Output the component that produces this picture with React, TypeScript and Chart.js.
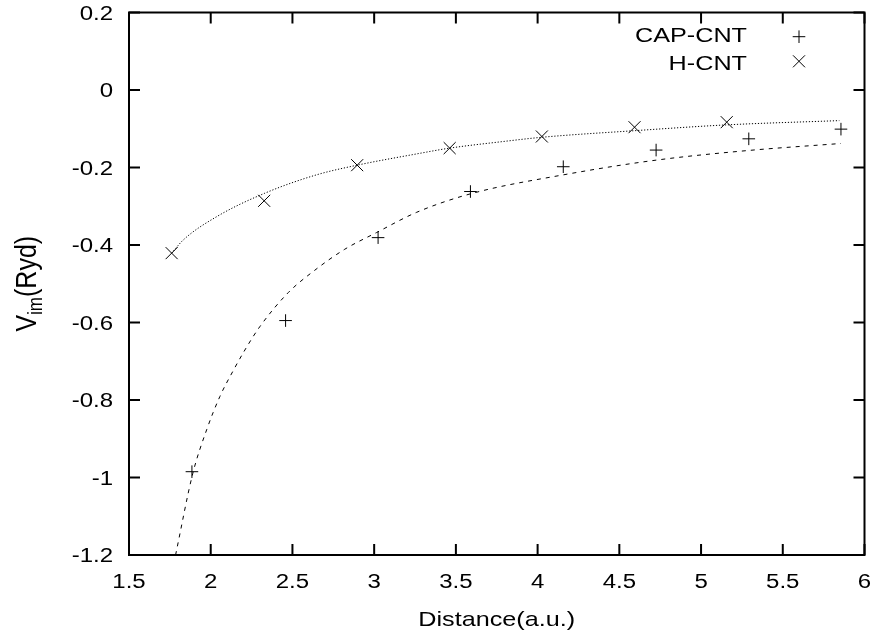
import React, { useEffect, useRef } from 'react';
import { Chart, registerables } from 'chart.js';

Chart.register(...registerables);

// ---- data ----
const capDistance = [1.885, 2.458, 3.024, 3.589, 4.157, 4.725, 5.292, 5.856];
const capVim = [-0.985, -0.595, -0.381, -0.262, -0.198, -0.155, -0.126, -0.101];

const hDistance = [1.761, 2.327, 2.896, 3.462, 4.026, 4.593, 5.157];
const hVim = [-0.421, -0.286, -0.194, -0.15, -0.12, -0.096, -0.083];

const capFitX = [1.785, 1.89, 1.975, 2.056, 2.138, 2.209, 2.3, 2.474, 2.637, 2.82, 3.014, 3.258, 3.589, 4.157, 4.725, 5.292, 5.856];
const capFitY = [-1.2, -0.99, -0.877, -0.791, -0.724, -0.671, -0.611, -0.523, -0.465, -0.411, -0.368, -0.316, -0.268, -0.219, -0.181, -0.156, -0.138];

const hFitX = [1.761, 1.832, 2.036, 2.327, 2.647, 2.896, 3.259, 3.462, 3.768, 4.026, 4.593, 5.157, 5.846];
const hFitY = [-0.421, -0.387, -0.327, -0.267, -0.219, -0.194, -0.165, -0.15, -0.134, -0.122, -0.105, -0.09, -0.079];

const xRange = [1.5, 6];
const xStep = 0.5;
const yRange = [-1.2, 0.2];
const yStep = 0.2;

const legendLabels = ['CAP-CNT', 'H-CNT'];
const xTitle = 'Distance(a.u.)';
const yTitleMain = 'V';
const yTitleSub = 'im';
const yTitleRest = '(Ryd)';

const FONT = '"Liberation Sans", Arial, Helvetica, sans-serif';
const SX = 1.2; // horizontal stretch of the reference's text

const pts = (xs: number[], ys: number[]) => xs.map((x, i) => ({ x, y: ys[i] }));

function fmt(v: number): string {
  const r = Math.round(v * 10) / 10;
  return (r === 0 ? 0 : r).toString();
}

function stretchedText(ctx: CanvasRenderingContext2D, text: string, x: number, y: number, size: number, align: CanvasTextAlign) {
  ctx.save();
  ctx.translate(x, y);
  ctx.scale(SX, 1);
  ctx.font = `${size}px ${FONT}`;
  ctx.textAlign = align;
  ctx.textBaseline = 'alphabetic';
  ctx.fillText(text, 0, 0);
  ctx.restore();
}

const gnuplotFrame = {
  id: 'gnuplotFrame',
  afterDraw(chart: any) {
    const { ctx, chartArea: a, scales } = chart;
    const xs = scales.x;
    const ys = scales.y;
    ctx.save();
    ctx.strokeStyle = '#000';
    ctx.fillStyle = '#000';
    ctx.lineWidth = 2;
    ctx.setLineDash([]);
    ctx.strokeRect(a.left, a.top, a.right - a.left, a.bottom - a.top);
    const TL = 11;
    ctx.beginPath();
    xs.ticks.forEach((t: any) => {
      const px = xs.getPixelForValue(t.value);
      ctx.moveTo(px, a.bottom);
      ctx.lineTo(px, a.bottom - TL);
      ctx.moveTo(px, a.top);
      ctx.lineTo(px, a.top + TL);
    });
    ys.ticks.forEach((t: any) => {
      const py = ys.getPixelForValue(t.value);
      ctx.moveTo(a.left, py);
      ctx.lineTo(a.left + TL, py);
      ctx.moveTo(a.right, py);
      ctx.lineTo(a.right - TL, py);
    });
    ctx.stroke();

    xs.ticks.forEach((t: any) => {
      stretchedText(ctx, fmt(t.value), xs.getPixelForValue(t.value), a.bottom + 33, 20, 'center');
    });
    ys.ticks.forEach((t: any) => {
      stretchedText(ctx, fmt(t.value), a.left - 16, ys.getPixelForValue(t.value) + 7.2, 20, 'right');
    });

    // x title
    stretchedText(ctx, xTitle, (a.left + a.right) / 2, 626, 21, 'center');

    // y title (rotated, with subscript)
    ctx.save();
    ctx.translate(36, (a.top + a.bottom) / 2);
    ctx.scale(SX, 1);
    ctx.rotate(-Math.PI / 2);
    ctx.textBaseline = 'alphabetic';
    ctx.textAlign = 'left';
    const mainF = `25px ${FONT}`;
    const subF = `17px ${FONT}`;
    ctx.font = mainF;
    const w1 = ctx.measureText(yTitleMain).width;
    const w3 = ctx.measureText(yTitleRest).width;
    ctx.font = subF;
    const w2 = ctx.measureText(yTitleSub).width;
    let cx = -(w1 + w2 + w3) / 2;
    ctx.font = mainF;
    ctx.fillText(yTitleMain, cx, 0);
    cx += w1;
    ctx.font = subF;
    ctx.fillText(yTitleSub, cx, 5);
    cx += w2;
    ctx.font = mainF;
    ctx.fillText(yTitleRest, cx, 0);
    ctx.restore();

    // legend
    stretchedText(ctx, legendLabels[0], 747, 42, 21, 'right');
    stretchedText(ctx, legendLabels[1], 747, 70, 21, 'right');
    ctx.lineWidth = 1;
    ctx.beginPath();
    const lx = 799;
    const r = 6.3;
    ctx.moveTo(lx - r, 36.7);
    ctx.lineTo(lx + r, 36.7);
    ctx.moveTo(lx, 36.7 - r);
    ctx.lineTo(lx, 36.7 + r);
    const q = 6;
    ctx.moveTo(lx - q, 61.3 - q);
    ctx.lineTo(lx + q, 61.3 + q);
    ctx.moveTo(lx - q, 61.3 + q);
    ctx.lineTo(lx + q, 61.3 - q);
    ctx.stroke();
    ctx.restore();
  },
};

export default function App() {
  const ref = useRef<HTMLCanvasElement | null>(null);

  useEffect(() => {
    if (!ref.current) return;
    const chart = new Chart(ref.current, {
      type: 'scatter',
      data: {
        datasets: [
          {
            label: 'CAP-CNT fit',
            data: pts(capFitX, capFitY),
            showLine: true,
            borderColor: '#000',
            borderWidth: 1,
            borderDash: [4, 5],
            pointRadius: 0,
            cubicInterpolationMode: 'monotone',
          },
          {
            label: 'H-CNT fit',
            data: pts(hFitX, hFitY),
            showLine: true,
            borderColor: '#000',
            borderWidth: 1,
            borderDash: [1.2, 1.8],
            pointRadius: 0,
            cubicInterpolationMode: 'monotone',
          },
          {
            label: legendLabels[0],
            data: pts(capDistance, capVim),
            showLine: false,
            pointStyle: 'cross',
            pointRadius: 6.3,
            pointBorderWidth: 1,
            pointBorderColor: '#000',
            pointBackgroundColor: '#000',
          },
          {
            label: legendLabels[1],
            data: pts(hDistance, hVim),
            showLine: false,
            pointStyle: 'crossRot',
            pointRadius: 8.5,
            pointBorderWidth: 1,
            pointBorderColor: '#000',
            pointBackgroundColor: '#000',
          },
        ],
      } as any,
      options: {
        animation: false,
        responsive: true,
        maintainAspectRatio: false,
        events: [],
        layout: { padding: { top: 12.5, right: 9, bottom: 0, left: 0 } },
        plugins: {
          legend: { display: false },
          tooltip: { enabled: false },
          title: { display: false },
        },
        scales: {
          x: {
            type: 'linear',
            min: xRange[0],
            max: xRange[1],
            ticks: { display: false, stepSize: xStep },
            grid: { display: false },
            border: { display: false },
            afterFit: (s: any) => {
              s.height = 78;
            },
          },
          y: {
            type: 'linear',
            min: yRange[0],
            max: yRange[1],
            ticks: { display: false, stepSize: yStep },
            grid: { display: false },
            border: { display: false },
            afterFit: (s: any) => {
              s.width = 129;
            },
          },
        },
      } as any,
      plugins: [gnuplotFrame],
    });
    return () => chart.destroy();
  }, []);

  return (
    <div style={{ position: 'absolute', left: 0, top: 0, width: '874px', height: '633px', background: '#fff' }}>
      <canvas ref={ref} />
    </div>
  );
}
